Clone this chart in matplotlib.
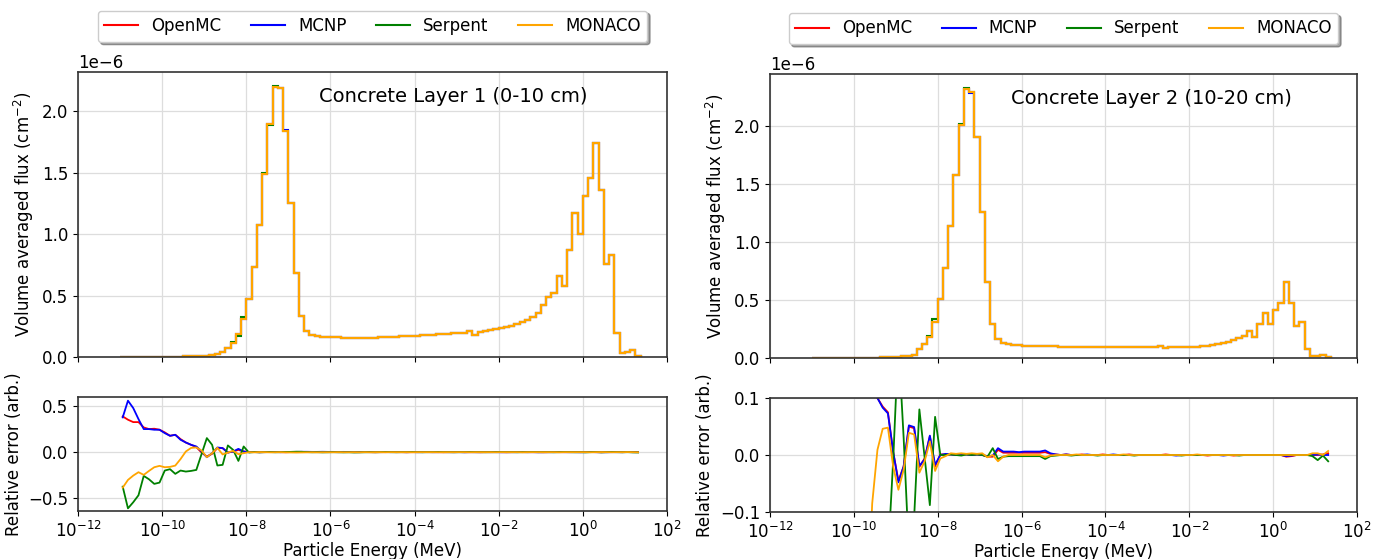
import numpy as np
import matplotlib
matplotlib.use("Agg")
import matplotlib.pyplot as plt
from matplotlib.ticker import NullLocator

# ---------------------------------------------------------------------------
# Group structure: 8 groups per decade starting at 1e-11 MeV (99 groups)
# ---------------------------------------------------------------------------
energy_edges = np.logspace(-11, 1.375, 100)
energy_mid = np.sqrt(energy_edges[:-1] * energy_edges[1:])

codes = ["OpenMC", "MCNP", "Serpent", "MONACO"]
colors = ["red", "blue", "green", "orange"]
flux_unit = 1e-6  # tabulated fluxes below are in units of 1e-6 cm^-2

# ---------------------------------------------------------------------------
# Layer 1 (0-10 cm): volume averaged group flux, MONACO tally
# ---------------------------------------------------------------------------
flux1_monaco = np.array([
    0.001, 0.001, 0.001, 0.001, 0.001, 0.002, 0.002, 0.002, 0.002, 0.003, 0.003,
    0.004, 0.005, 0.006, 0.007, 0.009, 0.012, 0.016,
    0.022, 0.040, 0.076, 0.116, 0.190, 0.310, 0.476, 0.734, 1.078, 1.490,
    1.900, 2.200, 2.190, 1.840, 1.250, 0.680, 0.336, 0.210, 0.177, 0.170,
    0.166, 0.163, 0.161, 0.159, 0.158, 0.157, 0.156, 0.156, 0.156, 0.157,
    0.158, 0.159, 0.161, 0.163, 0.166,
    0.169, 0.171, 0.174, 0.174, 0.177, 0.179, 0.182, 0.185, 0.188, 0.190,
    0.193, 0.196, 0.198,
    0.215, 0.182, 0.207, 0.212, 0.220, 0.228, 0.234, 0.245, 0.255, 0.271,
    0.285, 0.301, 0.325, 0.358, 0.425, 0.490, 0.524, 0.660, 0.580, 0.870,
    1.170, 1.000, 1.310, 1.460, 1.740, 1.360, 0.760, 0.830, 0.197, 0.035,
    0.040, 0.054, 0.009,
])
flux1_openmc = flux1_monaco.copy()
flux1_mcnp = flux1_monaco.copy()
flux1_mcnp[[31, 32]] = [1.845, 1.255]
flux1_serpent = flux1_monaco.copy()
flux1_serpent[[21, 22, 23, 27, 28, 29]] = [0.120, 0.170, 0.325, 1.495, 1.890, 2.210]

# ---------------------------------------------------------------------------
# Layer 2 (10-20 cm): volume averaged group flux, MONACO tally
# ---------------------------------------------------------------------------
flux2_monaco = np.array([
    0.001, 0.001, 0.001, 0.001, 0.001, 0.001, 0.002, 0.002, 0.002, 0.002, 0.003,
    0.003, 0.004, 0.005, 0.006, 0.008, 0.011, 0.015,
    0.020, 0.028, 0.077, 0.122, 0.185, 0.313, 0.504, 0.774, 1.139, 1.580,
    2.010, 2.316, 2.293, 1.900, 1.260, 0.655, 0.293, 0.162, 0.128, 0.117,
    0.112, 0.108, 0.106, 0.104, 0.103, 0.102, 0.101, 0.100, 0.100, 0.099,
    0.099, 0.098, 0.098, 0.097, 0.097,
    0.097, 0.096, 0.096, 0.096, 0.095, 0.095, 0.095, 0.095, 0.094, 0.094,
    0.094, 0.094, 0.094,
    0.106, 0.082, 0.094, 0.094, 0.095, 0.096, 0.097, 0.098, 0.100, 0.103,
    0.108, 0.117, 0.128, 0.139, 0.156, 0.176, 0.190, 0.233, 0.185, 0.293,
    0.390, 0.293, 0.413, 0.478, 0.655, 0.478, 0.276, 0.313, 0.077, 0.020,
    0.020, 0.022, 0.005,
])
flux2_openmc = flux2_monaco.copy()
flux2_mcnp = flux2_monaco.copy()
flux2_mcnp[[30, 31, 35]] = [2.280, 1.905, 0.166]
flux2_serpent = flux2_monaco.copy()
flux2_serpent[[20, 22, 23, 28, 29]] = [0.080, 0.190, 0.340, 2.020, 2.330]

# ---------------------------------------------------------------------------
# Relative error per group, layer 1 (groups 0-24, then groups 25-98)
# ---------------------------------------------------------------------------
err1_openmc = np.array([
    0.389, 0.353, 0.327, 0.327, 0.269, 0.251, 0.255, 0.244, 0.215, 0.178,
    0.189, 0.142, 0.105, 0.080, 0.055, -0.004, -0.047, -0.018, 0.044, 0.044,
    -0.004, 0.007, 0.025, 0.007, 0.002,
    0.001, -0.001, 0.000, 0.002, 0.001, 0.000, -0.001, 0.001, 0.002, 0.003,
    0.002, 0.001, 0.001, 0.002, 0.001, 0.001, 0.000, 0.001, 0.001, 0.000,
    0.000, 0.001, 0.000, -0.001, 0.000, 0.000, 0.001, 0.000, 0.000, -0.001,
    0.000, 0.000, 0.001, 0.000, 0.000, 0.000, -0.001, 0.000, 0.000, 0.001,
    0.000, 0.000, 0.000, -0.001, 0.000, 0.000, 0.001, 0.000, -0.001, 0.000,
    0.001, 0.000, 0.000, 0.000, 0.000, -0.001, 0.000, 0.001, 0.000, 0.000,
    0.000, 0.001, 0.000, 0.002, 0.001, 0.000, -0.001, 0.001, 0.002, 0.001,
    0.000, 0.001, 0.001, 0.002,
])
err1_mcnp = np.array([
    0.378, 0.560, 0.480, 0.360, 0.251, 0.251, 0.244, 0.244, 0.207, 0.178,
    0.189, 0.135, 0.105, 0.080, 0.062, 0.007, -0.055, -0.011, 0.051, 0.044,
    -0.004, 0.007, 0.036, 0.007, 0.000,
    0.002, 0.000, 0.001, 0.001, 0.002, 0.000, 0.001, 0.002, 0.003, 0.004,
    0.004, 0.003, 0.003, 0.004, 0.003, 0.003, 0.002, 0.003, 0.002, 0.002,
    0.002, 0.001, 0.002, 0.001, 0.001, 0.001, 0.000, 0.001, 0.001, 0.000,
    0.001, 0.000, 0.000, 0.001, 0.000, 0.000, 0.001, 0.000, 0.000, 0.000,
    -0.001, 0.000, 0.000, 0.000, 0.001, 0.000, 0.000, -0.001, 0.000, 0.000,
    0.000, 0.001, 0.000, 0.000, -0.001, 0.000, 0.000, 0.000, 0.001, 0.000,
    0.000, 0.000, -0.001, 0.000, 0.001, 0.000, 0.000, -0.001, 0.000, 0.000,
    0.000, 0.001, 0.000, 0.000,
])
err1_serpent = np.array([
    -0.375, -0.611, -0.545, -0.469, -0.258, -0.295, -0.345, -0.331, -0.200,
    -0.185, -0.236, -0.200, -0.211, -0.204, -0.193, -0.020, 0.153, 0.080,
    -0.145, -0.138, 0.073, 0.025, -0.095, 0.062, -0.004,
    0.001, -0.002, 0.000, 0.001, -0.001, 0.000, 0.002, 0.003, 0.005, 0.004,
    0.001, -0.001, 0.000, -0.002, -0.001, 0.000, -0.001, -0.002, -0.001, -0.003,
    -0.002, -0.001, 0.000, -0.001, 0.000, 0.001, 0.000, -0.001, 0.000, 0.000,
    0.001, 0.000, -0.001, 0.000, 0.000, 0.001, 0.000, 0.000, -0.001, 0.000,
    0.000, 0.001, 0.000, 0.000, -0.001, 0.000, 0.000, 0.001, 0.000, 0.000,
    -0.001, 0.000, 0.000, 0.001, 0.000, 0.000, 0.000, -0.001, 0.000, 0.001,
    0.000, -0.001, 0.000, -0.002, 0.000, 0.001, -0.002, 0.000, 0.001, 0.000,
    -0.001, 0.000, -0.002, -0.003,
])
err1_monaco = np.array([
    -0.386, -0.302, -0.255, -0.218, -0.247, -0.204, -0.164, -0.149, -0.164,
    -0.160, -0.146, -0.075, 0.007, 0.046, 0.051, 0.018, -0.055, -0.011,
    0.048, -0.025, -0.004, 0.015, -0.022, -0.011, 0.000,
    -0.002, 0.001, 0.000, -0.002, -0.001, 0.000, -0.002, -0.003, -0.004, -0.003,
    -0.002, -0.001, -0.002, -0.001, -0.001, -0.001, 0.000, -0.001, -0.001, 0.000,
    -0.001, 0.000, -0.001, 0.000, 0.000, -0.001, 0.000, 0.000, 0.000, 0.000,
    -0.001, 0.000, 0.000, 0.000, 0.000, -0.001, 0.000, 0.000, 0.000, 0.000,
    0.000, -0.001, 0.000, 0.000, 0.000, 0.000, -0.001, 0.000, 0.000, 0.000,
    0.000, -0.001, 0.000, 0.000, 0.000, 0.000, 0.000, 0.000, -0.001, 0.000,
    0.000, 0.000, 0.000, 0.000, -0.001, 0.000, 0.001, 0.000, -0.001, 0.000,
    0.000, 0.001, 0.000, -0.001,
])

# ---------------------------------------------------------------------------
# Relative error per group, layer 2 (groups 0-24, then groups 25-98)
# ---------------------------------------------------------------------------
err2_openmc = np.array([
    0.920, 0.860, 0.800, 0.720, 0.630, 0.550, 0.470, 0.410, 0.330, 0.260,
    0.190, 0.135, 0.100, 0.085, 0.075, 0.005, -0.045, -0.020, 0.050, 0.047,
    -0.021, -0.006, 0.033, -0.020, 0.001,
    0.001, 0.001, 0.000, 0.001, 0.001, 0.000, 0.001, 0.000, -0.003, -0.003,
    0.009, 0.004, 0.004, 0.004, 0.004, 0.004, 0.004, 0.004, 0.004, 0.005,
    0.002, 0.001, 0.000, 0.001, 0.000, 0.000, 0.001, 0.000, 0.000, 0.000,
    0.001, 0.000, 0.000, 0.000, 0.000, 0.001, 0.000, 0.000, 0.000, 0.000,
    0.000, 0.000, 0.001, 0.000, 0.000, 0.000, 0.000, 0.000, 0.000, 0.000,
    -0.001, 0.000, 0.000, 0.000, 0.000, -0.001, 0.000, 0.000, 0.000, 0.000,
    0.000, 0.000, 0.000, 0.000, 0.000, -0.003, -0.002, 0.000, 0.000, 0.000,
    0.000, 0.000, 0.001, 0.003,
])
err2_mcnp = np.array([
    0.900, 0.850, 0.800, 0.700, 0.620, 0.550, 0.480, 0.400, 0.320, 0.250,
    0.180, 0.130, 0.100, 0.083, 0.073, 0.006, -0.048, -0.020, 0.052, 0.049,
    -0.019, -0.008, 0.034, -0.017, 0.000,
    0.002, 0.001, 0.000, 0.002, 0.001, 0.000, 0.001, 0.000, -0.002, -0.001,
    0.012, 0.006, 0.006, 0.006, 0.005, 0.006, 0.006, 0.006, 0.006, 0.008,
    0.003, 0.001, 0.000, 0.001, 0.000, 0.000, 0.000, 0.001, 0.000, 0.000,
    0.000, 0.000, 0.001, 0.000, 0.000, 0.000, 0.000, 0.000, 0.000, 0.000,
    0.000, 0.000, 0.000, 0.000, -0.001, 0.000, 0.000, 0.000, 0.000, 0.000,
    0.000, 0.000, 0.000, -0.001, 0.000, 0.000, 0.000, 0.000, 0.000, 0.000,
    0.000, 0.000, 0.000, 0.000, 0.000, -0.002, -0.001, 0.000, 0.000, 0.000,
    0.000, 0.001, 0.000, 0.000,
])
err2_serpent = np.array([
    -0.900, -1.000, -0.950, -0.850, -0.800, -0.720, -0.650, -0.580, -0.500,
    -0.450, -0.400, -0.350, -0.300, -0.250, -0.180, -0.010, 0.200, 0.030,
    -0.170, -0.110, 0.080, -0.004, -0.088, 0.067, 0.000,
    0.000, 0.001, 0.000, -0.001, 0.001, 0.000, 0.001, 0.000, -0.003, 0.012,
    -0.007, -0.003, -0.002, -0.002, -0.002, -0.002, -0.002, -0.002, -0.002, -0.007,
    -0.002, -0.001, 0.000, 0.000, -0.001, 0.000, 0.000, 0.000, 0.000, -0.001,
    0.000, 0.000, 0.000, 0.000, 0.000, 0.000, -0.001, 0.000, 0.000, 0.000,
    0.000, 0.000, 0.000, 0.000, 0.000, -0.001, 0.000, 0.000, 0.000, 0.000,
    0.000, 0.000, 0.000, 0.000, 0.000, 0.000, -0.001, 0.000, 0.000, 0.000,
    0.000, 0.000, 0.000, 0.000, 0.000, 0.000, 0.000, 0.000, 0.000, 0.000,
    -0.002, -0.009, -0.001, -0.011,
])
err2_monaco = np.array([
    -1.000, -0.950, -0.900, -0.850, -0.800, -0.720, -0.650, -0.580, -0.500,
    -0.420, -0.300, -0.085, 0.009, 0.046, 0.048, -0.020, -0.061, -0.026,
    0.039, 0.036, -0.031, -0.011, 0.024, -0.028, -0.006,
    -0.002, 0.003, 0.002, 0.003, 0.002, 0.003, 0.002, 0.003, -0.004, 0.000,
    -0.011, -0.003, 0.000, 0.000, 0.000, 0.000, 0.000, 0.000, 0.000, -0.004,
    -0.001, 0.000, 0.000, 0.000, 0.000, 0.001, 0.000, 0.000, 0.000, 0.000,
    0.000, 0.000, 0.000, 0.000, 0.001, 0.000, 0.000, 0.000, 0.000, 0.000,
    0.000, 0.000, 0.000, 0.000, 0.000, 0.000, 0.000, 0.000, 0.001, 0.000,
    0.000, 0.000, 0.000, 0.000, 0.000, 0.000, 0.000, 0.000, 0.000, 0.000,
    0.000, 0.000, 0.000, 0.000, 0.000, 0.000, 0.000, 0.000, 0.000, 0.000,
    0.003, 0.003, 0.000, 0.007,
])

layers = [
    dict(title="Concrete Layer 1 (0-10 cm)",
         flux=[flux1_openmc, flux1_mcnp, flux1_serpent, flux1_monaco],
         err=[err1_openmc, err1_mcnp, err1_serpent, err1_monaco],
         err_lim=(-0.64, 0.60), err_ticks=[-0.5, 0.0, 0.5]),
    dict(title="Concrete Layer 2 (10-20 cm)",
         flux=[flux2_openmc, flux2_mcnp, flux2_serpent, flux2_monaco],
         err=[err2_openmc, err2_mcnp, err2_serpent, err2_monaco],
         err_lim=(-0.1, 0.1), err_ticks=[-0.1, 0.0, 0.1]),
]

plt.rcParams.update({
    "font.family": "DejaVu Sans",
    "font.size": 12,
    "axes.edgecolor": "#333333",
    "axes.linewidth": 1.2,
})

W, H = 1386, 559
fig = plt.figure(figsize=(W / 100, H / 100), dpi=100)


def frac(x0, x1, ytop, ybot):
    return [x0 / W, 1 - ybot / H, (x1 - x0) / W, (ybot - ytop) / H]


panel_boxes = [
    (frac(78, 667, 72, 357), frac(78, 667, 397, 511)),
    (frac(770, 1357, 74, 358), frac(770, 1357, 398, 512)),
]

xticks = [1e-12, 1e-10, 1e-8, 1e-6, 1e-4, 1e-2, 1e0, 1e2]

for layer, (top_box, bot_box) in zip(layers, panel_boxes):
    ax = fig.add_axes(top_box)
    axr = fig.add_axes(bot_box, sharex=ax)

    for name, col, vals in zip(codes, colors, layer["flux"]):
        ax.stairs(vals * flux_unit, energy_edges, color=col, lw=1.5, label=name)
    for col, vals in zip(colors, layer["err"]):
        axr.plot(energy_mid, vals, color=col, lw=1.3)

    ax.set_xscale("log")
    ax.set_xlim(1e-12, 1e2)
    ax.set_xticks(xticks)
    ax.xaxis.set_minor_locator(NullLocator())
    ax.set_ylim(bottom=0)
    ax.tick_params(axis="x", labelbottom=False)
    ax.set_ylabel("Volume averaged flux (cm$^{-2}$)")
    ax.grid(True, color="#dddddd", lw=0.9)
    ax.set_axisbelow(True)
    ax.text(0.41, 0.915, layer["title"], transform=ax.transAxes,
            fontsize=14, va="center", ha="left")
    ax.legend(loc="upper center", bbox_to_anchor=(0.5, 1.245), ncol=4,
              shadow=True, fancybox=True, fontsize=12, columnspacing=1.8,
              framealpha=1.0)

    axr.set_ylim(*layer["err_lim"])
    axr.set_yticks(layer["err_ticks"])
    axr.set_xlabel("Particle Energy (MeV)", labelpad=1)
    axr.set_ylabel("Relative error (arb.)")
    axr.grid(True, color="#dddddd", lw=0.9)
    axr.set_axisbelow(True)
    axr.xaxis.set_minor_locator(NullLocator())

fig.savefig("out.png", dpi=100)
